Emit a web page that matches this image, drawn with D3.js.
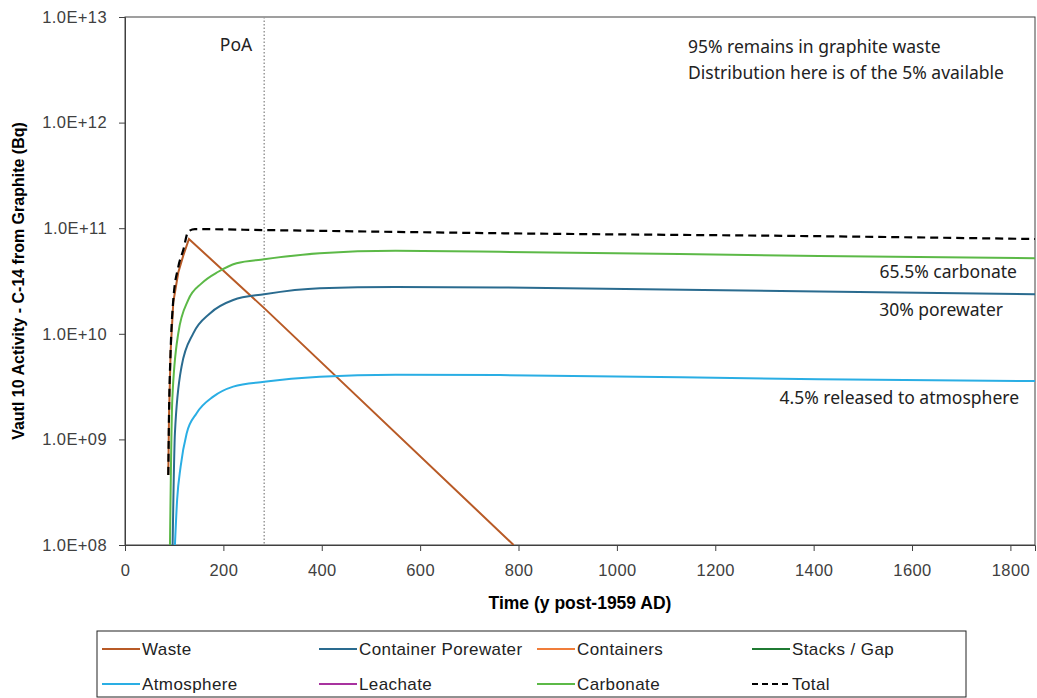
<!DOCTYPE html>
<html>
<head>
<meta charset="utf-8">
<script src="https://cdn.jsdelivr.net/npm/d3@7"></script>
<style>
  body { margin: 0; background: #fff; }
  .axis text { font-family: "Liberation Sans", Arial, sans-serif; font-size: 16.5px; fill: #404040; letter-spacing: 0.4px; }
  .axis path, .axis line { stroke: #404040; }
  .axis__label { font-family: "Liberation Sans", Arial, sans-serif; font-size: 17.5px; font-weight: bold; fill: #000; }
  .note { font-family: "Noto Sans", "Open Sans", sans-serif; font-size: 17.5px; fill: #222; }
  .legend text { font-family: "Liberation Sans", Arial, sans-serif; font-size: 17px; fill: #222; letter-spacing: 0.4px; }
</style>
</head>
<body>
<svg id="chart" width="1037" height="698"></svg>
<script>
// values: [time (y post-1959), activity (Bq)]
const waste = [[88, 4.6e8], [89.4, 1.6e9], [92.8, 6.9e9], [98.2, 2.0e10], [108.3, 3.8e10],
               [118.4, 5.5e10], [130, 7.9e10], [283, 1.75e10], [790, 1.0e8]];
const porewater = [[96.8, 1.0e8], [101.5, 1.15e9], [115, 4.9e9], [138.8, 1.01e10], [172.6, 1.56e10],
                   [220, 2.09e10], [283, 2.37e10], [396, 2.70e10], [550, 2.77e10], [762, 2.75e10],
                   [1411, 2.51e10], [1850, 2.37e10]];
const atmosphere = [[101.5, 1.0e8], [106, 2.7e8], [113, 5.5e8], [125.3, 1.14e9], [145.6, 1.77e9],
                    [179.4, 2.54e9], [220, 3.16e9], [283, 3.52e9], [396, 3.93e9], [550, 4.1e9],
                    [762, 4.07e9], [1411, 3.71e9], [1850, 3.57e9]];
const carbonate = [[91.4, 1.0e8], [96.1, 2.36e9], [108.3, 1.01e10], [128.6, 2.09e10], [155.7, 3.0e10],
                   [189.6, 3.87e10], [226.8, 4.66e10], [283, 5.08e10], [396, 5.78e10], [550, 6.1e10],
                   [762, 5.98e10], [1411, 5.46e10], [1850, 5.19e10]];
const total = [[88, 4.6e8], [89.4, 1.64e9], [92.8, 7.0e9], [98.2, 2.1e10], [108.3, 4.3e10],
               [118.4, 6.2e10], [128.6, 9.3e10], [142, 9.8e10], [283, 9.6e10], [770, 8.95e10],
               [1411, 8.4e10], [1850, 7.9e10]];
const containers = [];
const stacks = [];
const leachate = [];

const xTicks = [0, 200, 400, 600, 800, 1000, 1200, 1400, 1600, 1800];
const yTicks = [1e8, 1e9, 1e10, 1e11, 1e12, 1e13];
const poaTime = 283;

const series = [
  {name: 'Waste', data: waste, color: '#b85a26', straight: true},
  {name: 'Container Porewater', data: porewater, color: '#2a6b8f'},
  {name: 'Containers', data: containers, color: '#f07d3a'},
  {name: 'Stacks / Gap', data: stacks, color: '#1f7a32'},
  {name: 'Atmosphere', data: atmosphere, color: '#2aaee4'},
  {name: 'Leachate', data: leachate, color: '#a8329f'},
  {name: 'Carbonate', data: carbonate, color: '#5cb947'},
  {name: 'Total', data: total, color: '#000', dash: '8,5'}
];

const notes = [
  {text: '95% remains in graphite waste', x: 688, y: 53, anchor: 'start'},
  {text: 'Distribution here is of the 5% available', x: 688, y: 79, anchor: 'start'},
  {text: '65.5% carbonate', x: 1017, y: 278, anchor: 'end'},
  {text: '30% porewater', x: 1003, y: 316, anchor: 'end'},
  {text: '4.5% released to atmosphere', x: 1019, y: 404, anchor: 'end'}
];

const plot = {left: 125, right: 1035, top: 17, bottom: 545};
const svg = d3.select('#chart');

let xScale = d3.scaleLinear().domain([0, 1850]).range([plot.left, plot.right]);
let yScale = d3.scaleLog().domain([1e8, 1e13]).range([plot.bottom, plot.top]);

svg.append('clipPath')
    .attr('id', 'plot-clip')
  .append('rect')
    .attr('x', plot.left)
    .attr('y', plot.top)
    .attr('width', plot.right - plot.left)
    .attr('height', plot.bottom - plot.top);

//frame
svg.append('rect')
    .attr('x', plot.left)
    .attr('y', plot.top)
    .attr('width', plot.right - plot.left)
    .attr('height', plot.bottom - plot.top)
    .attr('fill', 'none')
    .attr('stroke', '#404040')
    .attr('stroke-width', 1);

//x-Axis
svg.append('g')
    .classed('axis axis--x', true)
    .attr('transform', `translate(0, ${plot.bottom})`)
    .call(d3.axisBottom(xScale).tickValues(xTicks).tickSize(6).tickPadding(13).tickFormat(d3.format('d')));

svg.append('text')
    .classed('axis__label', true)
    .attr('x', (plot.left + plot.right) / 2)
    .attr('y', 609)
    .attr('text-anchor', 'middle')
    .text('Time (y post-1959 AD)');

//y-Axis
const expFormat = d => {
  const exp = Math.round(Math.log10(d));
  return '1.0E+' + String(exp).padStart(2, '0');
};
svg.append('g')
    .classed('axis axis--y', true)
    .attr('transform', `translate(${plot.left}, 0)`)
    .call(d3.axisLeft(yScale).tickValues(yTicks).tickSize(6).tickPadding(12).tickFormat(expFormat));

svg.append('text')
    .classed('axis__label', true)
    .attr('transform', `translate(24, ${(plot.top + plot.bottom) / 2}) rotate(-90)`)
    .attr('text-anchor', 'middle')
    .style('font-size', '16px')
    .text('Vautl 10 Activity - C-14 from Graphite (Bq)');

//PoA marker
svg.append('line')
    .attr('x1', xScale(poaTime))
    .attr('x2', xScale(poaTime))
    .attr('y1', plot.top)
    .attr('y2', plot.bottom)
    .attr('stroke', '#999')
    .attr('stroke-width', 1.5)
    .attr('stroke-dasharray', '1.5,2');

svg.append('text')
    .classed('note', true)
    .attr('x', 236)
    .attr('y', 51)
    .attr('text-anchor', 'middle')
    .text('PoA');

//lines
const smooth = d3.line()
    .x(d => xScale(d[0]))
    .y(d => yScale(d[1]))
    .curve(d3.curveMonotoneX);
const straight = d3.line()
    .x(d => xScale(d[0]))
    .y(d => yScale(d[1]));

svg.append('g')
    .attr('clip-path', 'url(#plot-clip)')
  .selectAll('path')
    .data(series.filter(s => s.data.length > 0))
    .enter()
  .append('path')
    .attr('d', d => d.straight ? straight(d.data) : smooth(d.data))
    .attr('fill', 'none')
    .attr('stroke', d => d.color)
    .attr('stroke-width', d => d.dash ? 2.2 : 2)
    .attr('stroke-dasharray', d => d.dash || null);

//notes
svg.selectAll('.note-text')
    .data(notes)
    .enter()
  .append('text')
    .classed('note note-text', true)
    .attr('x', d => d.x)
    .attr('y', d => d.y)
    .attr('text-anchor', d => d.anchor)
    .text(d => d.text);

//legend
const legend = svg.append('g').classed('legend', true);
legend.append('rect')
    .attr('x', 97)
    .attr('y', 631)
    .attr('width', 869)
    .attr('height', 66)
    .attr('fill', 'none')
    .attr('stroke', '#222')
    .attr('stroke-width', 1);

const colX = [102, 319, 537, 752];
const rowY = [649, 684];
const items = legend.selectAll('.legend__item')
    .data(series)
    .enter()
  .append('g')
    .classed('legend__item', true)
    .attr('transform', (d, i) => `translate(${colX[i % 4]}, ${rowY[Math.floor(i / 4)]})`);

items.append('line')
    .attr('x1', 0)
    .attr('x2', 38)
    .attr('stroke', d => d.color)
    .attr('stroke-width', 2)
    .attr('stroke-dasharray', d => d.dash ? '6,4' : null);

items.append('text')
    .attr('x', 40)
    .attr('y', 0)
    .attr('dy', '0.35em')
    .text(d => d.name);
</script>
</body>
</html>
